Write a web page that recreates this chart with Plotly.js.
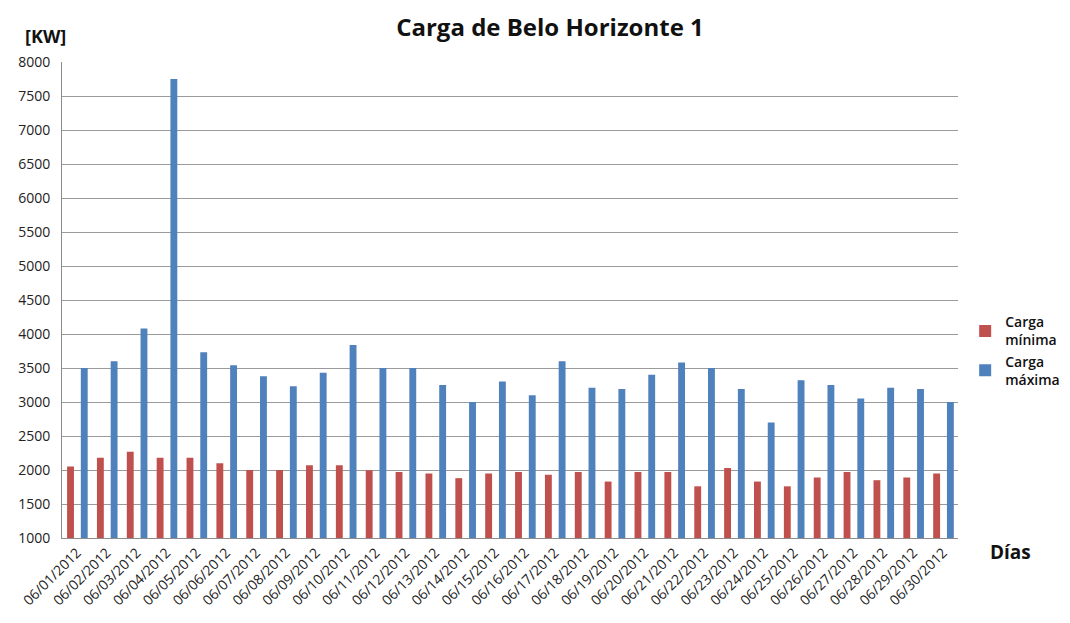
<!DOCTYPE html>
<html>
<head>
<meta charset="utf-8">
<script src="https://cdn.plot.ly/plotly-3.0.1.min.js"></script>
<style>html,body{margin:0;padding:0;background:#fff}#chart{width:1070px;height:623px}</style>
</head>
<body>
<div id="chart"></div>
<script>
const days = ["06/01/2012","06/02/2012","06/03/2012","06/04/2012","06/05/2012","06/06/2012","06/07/2012","06/08/2012","06/09/2012","06/10/2012",
  "06/11/2012","06/12/2012","06/13/2012","06/14/2012","06/15/2012","06/16/2012","06/17/2012","06/18/2012","06/19/2012","06/20/2012",
  "06/21/2012","06/22/2012","06/23/2012","06/24/2012","06/25/2012","06/26/2012","06/27/2012","06/28/2012","06/29/2012","06/30/2012"];
const cargaMinima = [2050,2180,2270,2180,2180,2100,2000,2000,2070,2070,
  1995,1970,1950,1880,1950,1970,1930,1970,1830,1970,
  1970,1760,2030,1830,1760,1890,1970,1850,1890,1950];
const cargaMaxima = [3500,3600,4080,7750,3730,3540,3380,3230,3430,3840,
  3500,3500,3250,3000,3300,3100,3600,3210,3190,3400,
  3580,3500,3190,2700,3320,3250,3050,3210,3190,3000];
const yTicks = [1000,1500,2000,2500,3000,3500,4000,4500,5000,5500,6000,6500,7000,7500,8000];

const fontFam = "Open Sans, Noto Sans, DejaVu Sans, sans-serif";
const traces = [
  {type:"bar", name:"Carga<br>mínima", x:days, y:cargaMinima, offset:-0.33, width:0.23,
   marker:{color:"#C0504D"}},
  {type:"bar", name:"Carga<br>máxima", x:days, y:cargaMaxima, offset:0.13, width:0.23,
   marker:{color:"#4F81BD"}}
];
const layout = {
  width:1070, height:623,
  margin:{l:62, r:112, t:62, b:85, autoexpand:false},
  paper_bgcolor:"#fff", plot_bgcolor:"#fff",
  barmode:"overlay",
  font:{family:fontFam, color:"#222"},
  title:{text:"<b>Carga de Belo Horizonte 1</b>", x:0.514, xanchor:"center", y:0.955, yanchor:"middle",
         font:{size:24, color:"#111", family:fontFam}},
  xaxis:{type:"category", tickangle:-45, tickfont:{size:14, color:"#222"},
         showgrid:false, showline:true, linecolor:"#8c8c8c", linewidth:1, ticks:"", automargin:false},
  yaxis:{range:[1000,8000], tickvals:yTicks, ticktext:yTicks.map(String), tickfont:{size:14, color:"#222"},
         showgrid:true, gridcolor:"#9a9a9a", gridwidth:1, showline:true, linecolor:"#8c8c8c",
         zeroline:false, ticks:"", ticklen:0, ticklabelstandoff:8, automargin:false},
  legend:{x:1.008, xanchor:"left", y:0.487, yanchor:"top", font:{size:14, color:"#111", weight:600},
          tracegroupgap:12, itemwidth:30, bgcolor:"rgba(0,0,0,0)"},
  showlegend:true,
  annotations:[
    {text:"<b>[KW]</b>", xref:"paper", yref:"paper", x:-0.018, y:1.055, xanchor:"center", yanchor:"middle",
     showarrow:false, font:{size:18, color:"#111"}},
    {text:"<b>Días</b>", xref:"paper", yref:"paper", x:1.034, y:-0.03, xanchor:"left", yanchor:"middle",
     showarrow:false, font:{size:19, color:"#111"}}
  ]
};
Plotly.newPlot("chart", traces, layout, {displayModeBar:false, staticPlot:true});
</script>
</body>
</html>
